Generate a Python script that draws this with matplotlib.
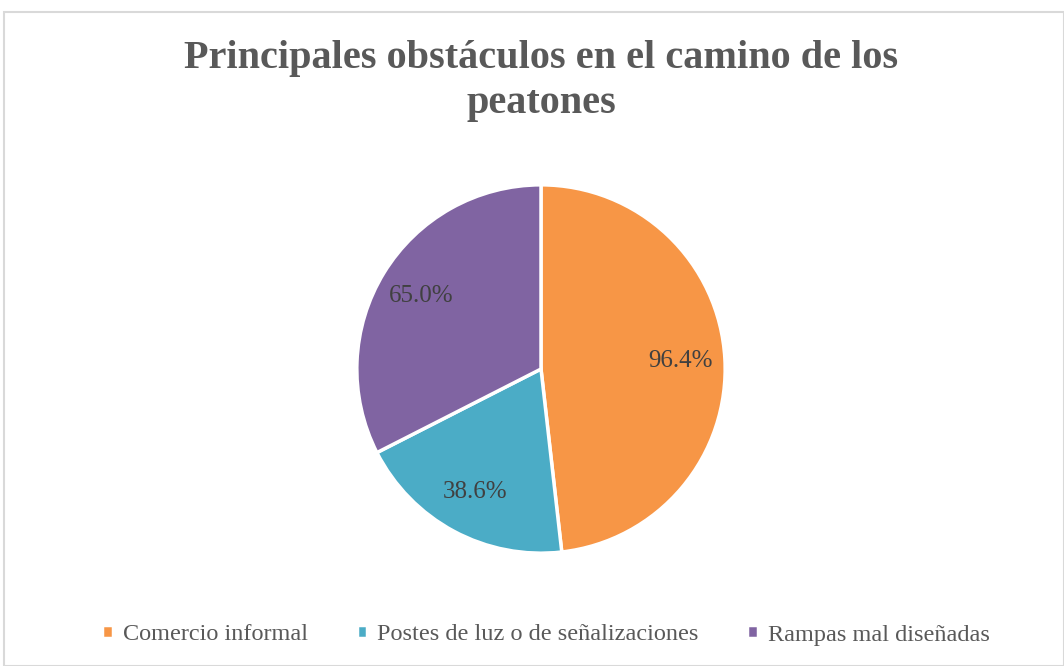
import matplotlib.pyplot as plt
from matplotlib.patches import Rectangle

categorias = ['Comercio informal', 'Postes de luz o de señalizaciones', 'Rampas mal diseñadas']
valores = [96.4, 38.6, 65.0]
colores = ['#F79646', '#4BACC6', '#8064A2']

plt.rcParams['font.family'] = ['Liberation Serif', 'DejaVu Serif']

fig = plt.figure(figsize=(10.64, 6.66), dpi=100)
fig.patches.append(Rectangle((4 / 1064, 0), 1 - 4 / 1064, 1 - 12 / 666, transform=fig.transFigure,
                             fill=False, edgecolor='#D9D9D9', linewidth=1.5))

ax = fig.add_axes([(541 - 186) / 1064, 1 - (369 + 186) / 666, 372 / 1064, 372 / 666])
total = sum(valores)
wedges, textos, pcts = ax.pie(valores, colors=colores, startangle=90, counterclock=False,
                              autopct=lambda p: f'{p * total / 100:.1f}%', pctdistance=0.76,
                              wedgeprops=dict(edgecolor='white', linewidth=2.5),
                              textprops=dict(color='#404040', fontsize=18))
ax.set_xlim(-1.01, 1.01)
ax.set_ylim(-1.01, 1.01)
ax.set_aspect('equal')

fig.text(541 / 1064, 1 - 81 / 666, 'Principales obstáculos en el camino de los\npeatones',
         ha='center', va='center', fontsize=29, fontweight='bold', color='#595959',
         linespacing=1.3)

fig.legend(wedges, categorias, loc='center', bbox_to_anchor=(546 / 1064, 1 - 635 / 666),
           ncol=3, frameon=False, fontsize=17.5, labelcolor='#595959',
           handlelength=0.45, handleheight=0.45, handletextpad=0.4, columnspacing=2.0)

fig.savefig('out.png', dpi=100)
